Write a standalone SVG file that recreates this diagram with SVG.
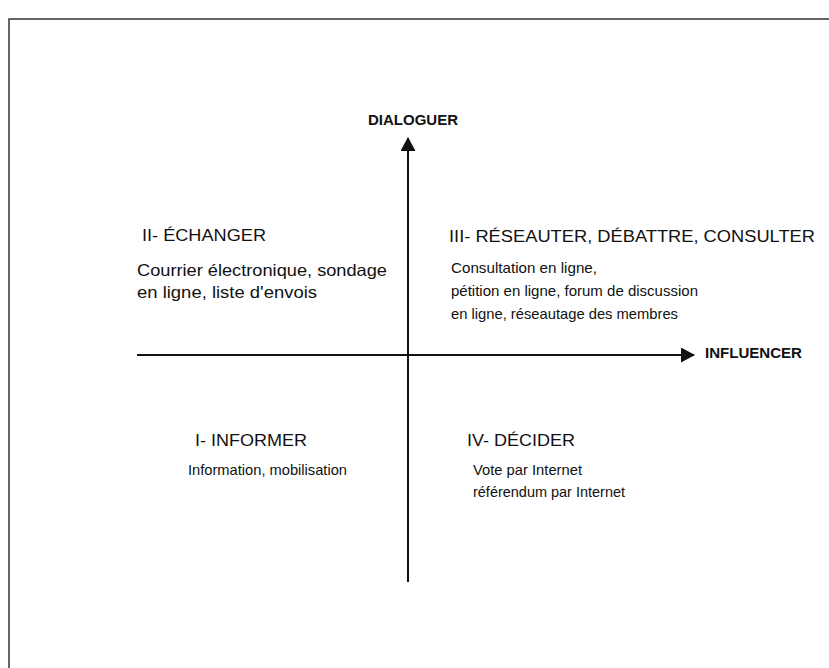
<svg xmlns="http://www.w3.org/2000/svg" width="829" height="668" viewBox="0 0 829 668">
<style>
text { font-family: "Liberation Sans", Arial, sans-serif; fill: #111; }
.h { font-size: 16px; }
.b { font-size: 16.5px; }
.s { font-size: 15px; }
.ax { font-size: 15px; font-weight: bold; }
.line { stroke: #111; stroke-width: 2; fill: none; }
.frame { stroke: #333; stroke-width: 1.5; fill: none; }
</style>
<defs>
<marker id="arr" markerWidth="14" markerHeight="15" refX="13" refY="7.5" orient="auto" markerUnits="userSpaceOnUse" viewBox="0 0 14 15">
<path d="M0,0 L14,7.5 L0,15 Z" fill="#111"/>
</marker>
</defs>
<rect width="829" height="668" fill="#fff"/>
<path class="frame" d="M9,668 L9,19 L829,19"/>
<g id="connectors">
<line class="line" x1="137" y1="355" x2="694" y2="355" marker-end="url(#arr)"/>
<line class="line" x1="408" y1="582" x2="408" y2="138" marker-end="url(#arr)"/>
</g>
<g id="axis-dialoguer"><text class="ax" x="368" y="125" textLength="90" lengthAdjust="spacingAndGlyphs">DIALOGUER</text></g>
<g id="axis-influencer"><text class="ax" x="705" y="358" textLength="97" lengthAdjust="spacingAndGlyphs">INFLUENCER</text></g>
<g id="q2">
<text class="h" x="142" y="241" textLength="124" lengthAdjust="spacingAndGlyphs">II- ÉCHANGER</text>
<text class="b" x="137" y="276" textLength="250" lengthAdjust="spacingAndGlyphs">Courrier électronique, sondage</text>
<text class="b" x="137" y="298" textLength="180" lengthAdjust="spacingAndGlyphs">en ligne, liste d'envois</text>
</g>
<g id="q3">
<text class="h" x="449" y="242" textLength="366" lengthAdjust="spacingAndGlyphs">III- RÉSEAUTER, DÉBATTRE, CONSULTER</text>
<text class="s" x="451" y="273" textLength="146" lengthAdjust="spacingAndGlyphs">Consultation en ligne,</text>
<text class="s" x="451" y="296" textLength="247" lengthAdjust="spacingAndGlyphs">pétition en ligne, forum de discussion</text>
<text class="s" x="451" y="319" textLength="227" lengthAdjust="spacingAndGlyphs">en ligne, réseautage des membres</text>
</g>
<g id="q1">
<text class="h" x="195" y="446" textLength="112" lengthAdjust="spacingAndGlyphs">I- INFORMER</text>
<text class="s" x="188" y="475" textLength="159" lengthAdjust="spacingAndGlyphs">Information, mobilisation</text>
</g>
<g id="q4">
<text class="h" x="467" y="446" textLength="108" lengthAdjust="spacingAndGlyphs">IV- DÉCIDER</text>
<text class="s" x="473" y="475" textLength="109" lengthAdjust="spacingAndGlyphs">Vote par Internet</text>
<text class="s" x="473" y="497" textLength="152" lengthAdjust="spacingAndGlyphs">référendum par Internet</text>
</g>
</svg>
